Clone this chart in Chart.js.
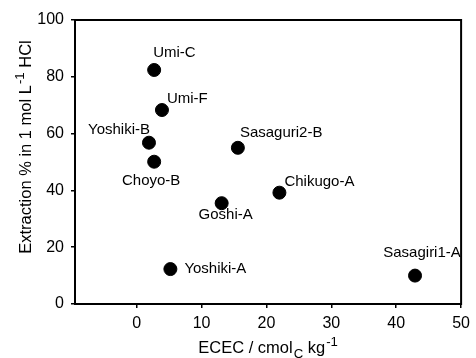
<!DOCTYPE html>
<html>
<head>
<meta charset="utf-8">
<script src="https://cdn.jsdelivr.net/npm/chart.js@4"></script>
<style>
  html, body { margin: 0; padding: 0; background: #fff; }
  #wrap { width: 476px; height: 358px; }
</style>
</head>
<body>
<div id="wrap"><canvas id="ecec_chart" width="476" height="358"></canvas></div>
<script>
// data
const sites = ['Umi-C', 'Umi-F', 'Yoshiki-B', 'Choyo-B', 'Sasaguri2-B', 'Goshi-A', 'Yoshiki-A', 'Chikugo-A', 'Sasagiri1-A'];
const ecec = [2.7, 3.9, 1.9, 2.7, 15.6, 13.1, 5.2, 22.0, 42.9];
const extraction = [82.4, 68.3, 56.8, 50.1, 55.0, 35.5, 12.3, 39.2, 10.0];
const xTicks = [0, 10, 20, 30, 40, 50];
const yTicks = [0, 20, 40, 60, 80, 100];

const FONT = '"Liberation Sans", Arial, sans-serif';

// where each site name sits relative to its dot: [dx, dy, align]
const labelPlace = {
    'Umi-C': [-1, -17, 'left'],
    'Umi-F': [5, -11, 'left'],
    'Yoshiki-B': [1, -13, 'right'],
    'Choyo-B': [-3, 19, 'center'],
    'Sasaguri2-B': [2, -15, 'left'],
    'Goshi-A': [4, 12, 'center'],
    'Yoshiki-A': [14, 0, 'left'],
    'Chikugo-A': [5, -11, 'left'],
    'Sasagiri1-A': [7, -23, 'center']
};

function richText(ctx, parts, x, y, size) {
    // parts: [text, mode] with mode '', 'sup' or 'sub'; centered on x
    const fontFor = p => (p[1] ? size * 0.8 : size) + 'px ' + FONT;
    let total = 0;
    parts.forEach(p => {
        ctx.font = fontFor(p);
        total += ctx.measureText(p[0]).width + (p[1] ? 1 : 0);
    });
    let cx = x - total / 2;
    parts.forEach(p => {
        ctx.font = fontFor(p);
        let dy = p[1] === 'sup' ? -size * 0.42 : p[1] === 'sub' ? size * 0.3 : 0;
        if (p[1]) cx += 1;
        ctx.fillText(p[0], cx, y + dy);
        cx += ctx.measureText(p[0]).width;
    });
}

const decorations = {
    id: 'decorations',
    afterDraw(chart) {
        const ctx = chart.ctx;
        const a = chart.chartArea;
        const xs = chart.scales.x, ys = chart.scales.y;
        ctx.save();
        ctx.strokeStyle = '#000';
        ctx.lineWidth = 2;
        ctx.strokeRect(a.left, a.top, a.right - a.left, a.bottom - a.top);

        ctx.fillStyle = '#000';
        ctx.textBaseline = 'middle';
        ctx.font = '15px ' + FONT;
        sites.forEach((s, i) => {
            const p = labelPlace[s];
            ctx.textAlign = p[2];
            ctx.fillText(s, xs.getPixelForValue(ecec[i]) + p[0], ys.getPixelForValue(extraction[i]) + p[1]);
        });

        ctx.textAlign = 'left';
        ctx.textBaseline = 'alphabetic';
        richText(ctx, [['ECEC / cmol', ''], ['C', 'sub'], [' kg', ''], ['-1', 'sup']], (a.left + a.right) / 2, 353, 16.5);

        ctx.translate(31, 147);
        ctx.rotate(-Math.PI / 2);
        richText(ctx, [['Extraction % in 1 mol L', ''], ['-1', 'sup'], [' HCl', '']], 0, 0, 16.5);
        ctx.restore();
    }
};

new Chart(document.getElementById('ecec_chart'), {
    type: 'scatter',
    data: {
        datasets: [{
            label: 'sites',
            data: ecec.map((v, i) => ({ x: v, y: extraction[i] })),
            backgroundColor: '#000',
            borderColor: '#000',
            pointRadius: 6.5,
            pointHoverRadius: 6.5
        }]
    },
    options: {
        responsive: false,
        animation: false,
        layout: { padding: { top: 20, right: 10, left: 0, bottom: 0 } },
        plugins: { legend: { display: false }, tooltip: { enabled: false } },
        scales: {
            x: {
                type: 'linear',
                min: -9.5,
                max: 50,
                afterBuildTicks: s => { s.ticks = xTicks.map(v => ({ value: v })); },
                afterFit: s => { s.height = 54; },
                border: { display: true, color: '#000', width: 2 },
                grid: { drawOnChartArea: false, drawTicks: true, tickLength: 4, color: '#000', lineWidth: 1.5 },
                ticks: { color: '#000', font: { family: FONT, size: 16 }, padding: 6, maxRotation: 0 }
            },
            y: {
                min: 0,
                max: 100,
                afterBuildTicks: s => { s.ticks = yTicks.map(v => ({ value: v })); },
                afterFit: s => { s.width = 75; },
                border: { display: true, color: '#000', width: 2 },
                grid: { drawOnChartArea: false, drawTicks: true, tickLength: 4, color: '#000', lineWidth: 1.5 },
                ticks: { color: '#000', font: { family: FONT, size: 16 }, padding: 7 }
            }
        }
    },
    plugins: [decorations]
});
</script>
</body>
</html>
